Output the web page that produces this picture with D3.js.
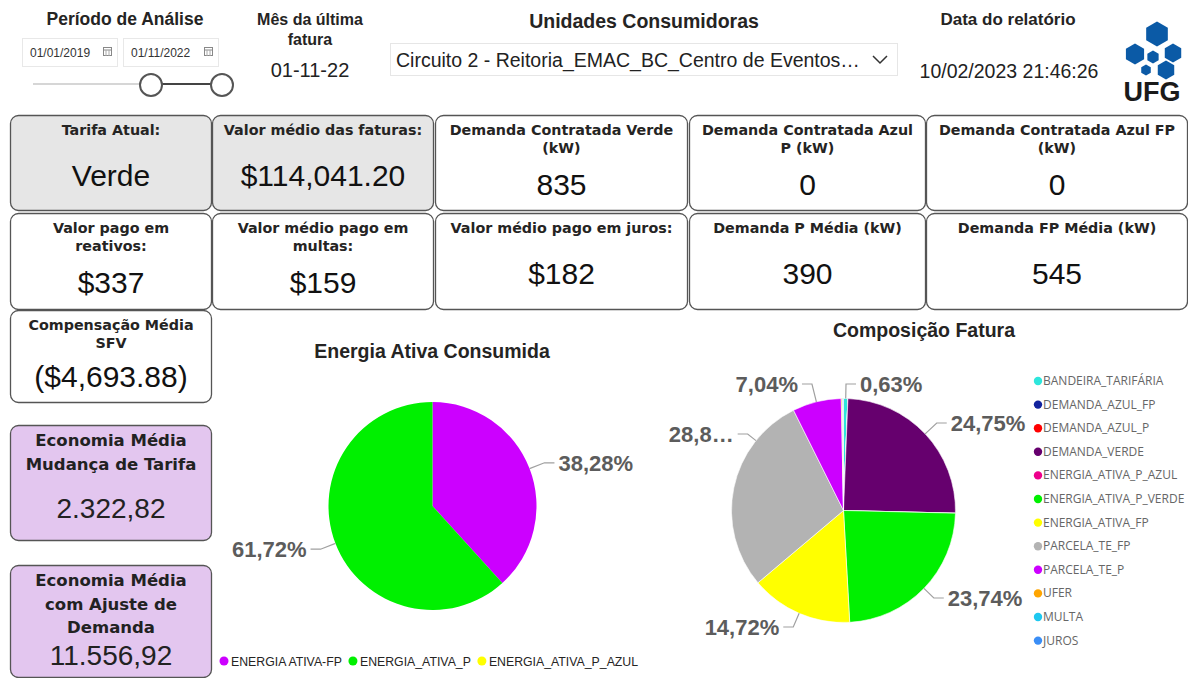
<!DOCTYPE html>
<html><head><meta charset="utf-8">
<script src="https://cdn.jsdelivr.net/npm/d3@7"></script>
<style>
html,body{margin:0;padding:0;background:#fff;}
svg{display:block;font-family:"Liberation Sans",Arial,sans-serif;}
</style></head>
<body>
<svg id="c" width="1188" height="678"></svg>
<script>
// ---------- DATA ----------
const periodStart = "01/01/2019";
const periodEnd = "01/11/2022";
const lastInvoice = "01-11-22";
const unitName = "Circuito 2 - Reitoria_EMAC_BC_Centro de Eventos…";
const reportDate = "10/02/2023 21:46:26";

const cardTitles = [
  ["Tarifa Atual:"], ["Valor médio das faturas:"], ["Demanda Contratada Verde", "(kW)"],
  ["Demanda Contratada Azul", "P (kW)"], ["Demanda Contratada Azul FP", "(kW)"],
  ["Valor pago em", "reativos:"], ["Valor médio pago em", "multas:"], ["Valor médio pago em juros:"],
  ["Demanda P Média (kW)"], ["Demanda FP Média (kW)"],
  ["Compensação Média", "SFV"]
];
const cardValues = ["Verde", "$114,041.20", "835", "0", "0", "$337", "$159", "$182", "390", "545", "($4,693.88)"];

const savingTitles = [["Economia Média", "Mudança de Tarifa"], ["Economia Média", "com Ajuste de", "Demanda"]];
const savingValues = ["2.322,82", "11.556,92"];

const energyCategories = ["ENERGIA ATIVA-FP", "ENERGIA_ATIVA_P", "ENERGIA_ATIVA_P_AZUL"];
const energyShare = [38.28, 61.72, 0];
const energyColors = ["#cc00ff", "#00f000", "#ffff00"];

const invoiceCategories = ["BANDEIRA_TARIFÁRIA", "DEMANDA_AZUL_FP", "DEMANDA_AZUL_P", "DEMANDA_VERDE",
  "ENERGIA_ATIVA_P_AZUL", "ENERGIA_ATIVA_P_VERDE", "ENERGIA_ATIVA_FP", "PARCELA_TE_FP", "PARCELA_TE_P",
  "UFER", "MULTA", "JUROS"];
const invoiceShare = [0.63, 0, 0, 24.75, 0, 23.74, 14.72, 28.80, 7.04, 0.16, 0.08, 0.08];
const invoiceLabels = ["0,63%", "", "", "24,75%", "", "23,74%", "14,72%", "28,8…", "7,04%", "", "", ""];
const invoiceColors = ["#2ee6dc", "#12239e", "#ff0000", "#66006e", "#ee008c", "#00f000", "#ffff00",
  "#b3b3b3", "#cc00ff", "#ffa500", "#1ec8f0", "#3a8ef6"];

// ---------- DRAW ----------
const svg = d3.select("#c");
const dark = "#252423";
const wide = "DejaVu Sans";

function txt(g, x, y, s, size, weight, anchor, fill, family) {
  const t = g.append("text").attr("x", x).attr("y", y).text(s)
    .attr("font-size", size).attr("font-weight", weight || "normal")
    .attr("text-anchor", anchor || "middle").attr("fill", fill || dark);
  if (family) t.style("font-family", family);
  return t;
}

// Header: period
txt(svg, 125, 25, "Período de Análise", 17.5, "bold");
[[22, periodStart], [123, periodEnd]].forEach(([x, s]) => {
  svg.append("rect").attr("x", x + .5).attr("y", 38.5).attr("width", 95).attr("height", 28)
    .attr("fill", "#fff").attr("stroke", "#e8e8e8");
  txt(svg, x + 8, 57, s, 12, "normal", "start", "#333");
  const ix = x + 81, iy = 47;
  svg.append("rect").attr("x", ix + .5).attr("y", iy + .5).attr("width", 8).attr("height", 8)
    .attr("fill", "none").attr("stroke", "#888");
  svg.append("line").attr("x1", ix).attr("x2", ix + 9).attr("y1", iy + 3).attr("y2", iy + 3).attr("stroke", "#888");
  svg.append("line").attr("x1", ix + 3).attr("x2", ix + 3).attr("y1", iy + 3).attr("y2", iy + 9).attr("stroke", "#aaa");
  svg.append("line").attr("x1", ix + 6).attr("x2", ix + 6).attr("y1", iy + 3).attr("y2", iy + 9).attr("stroke", "#aaa");
});
svg.append("line").attr("x1", 33).attr("x2", 150).attr("y1", 84).attr("y2", 84).attr("stroke", "#d6d6d6").attr("stroke-width", 2);
svg.append("line").attr("x1", 150).attr("x2", 222).attr("y1", 84).attr("y2", 84).attr("stroke", "#444").attr("stroke-width", 2);
[151, 222].forEach(cx => svg.append("circle").attr("cx", cx).attr("cy", 85).attr("r", 11)
  .attr("fill", "#fff").attr("stroke", "#555").attr("stroke-width", 2));

// Last invoice
txt(svg, 310, 25, "Mês da última", 16, "bold");
txt(svg, 310, 45, "fatura", 16, "bold");
txt(svg, 310, 77, lastInvoice, 20, "normal", "middle", "#222");

// Units
txt(svg, 644, 28, "Unidades Consumidoras", 19.5, "bold");
svg.append("rect").attr("x", 390.5).attr("y", 43.5).attr("width", 507).attr("height", 32)
  .attr("fill", "#fff").attr("stroke", "#e6e6e6");
txt(svg, 396, 67, unitName, 19.5, "normal", "start", "#222");
svg.append("polyline").attr("points", "873,56 880,63 887,56").attr("fill", "none").attr("stroke", "#333").attr("stroke-width", 1.5);

// Report date
txt(svg, 1008, 25, "Data do relatório", 17, "bold");
txt(svg, 1009, 78, reportDate, 19.5, "normal", "middle", "#222");

// UFG logo
function hex(cx, cy, r) {
  const pts = d3.range(6).map(i => {
    const a = Math.PI / 3 * i + Math.PI / 6;
    return [cx + r * Math.cos(a), cy + r * Math.sin(a)];
  });
  svg.append("polygon").attr("points", pts.map(p => p.join(",")).join(" ")).attr("fill", "#0b5aa6");
}
hex(1157, 34, 12.5); hex(1135, 54, 10.5); hex(1153, 57, 6.5); hex(1173, 53, 9.5);
hex(1146, 70, 5.5); hex(1166, 70, 9.5);
txt(svg, 1152, 101, "UFG", 27, "bold", "middle", "#1a1a1a");

// Cards
const colX = [10, 212, 435, 689, 926], colW = [201, 221, 252, 236, 261];
const cardBoxes = [];
for (let r = 0; r < 2; r++) for (let c = 0; c < 5; c++)
  cardBoxes.push({ x: colX[c], y: r === 0 ? 115 : 213, w: colW[c], h: r === 0 ? 95 : 96, fill: (r === 0 && c < 2) ? "#e6e6e6" : "#fff" });
cardBoxes.push({ x: 10, y: 310, w: 201, h: 92, fill: "#fff" });

cardBoxes.forEach((b, i) => {
  svg.append("rect").attr("x", b.x + .5).attr("y", b.y + .5).attr("width", b.w).attr("height", b.h)
    .attr("rx", 8).attr("fill", b.fill).attr("stroke", "#555").attr("stroke-width", 1.3);
  const cx = b.x + b.w / 2 + .5;
  const lines = cardTitles[i];
  lines.forEach((l, k) => txt(svg, cx, b.y + 20 + k * 18, l, 14.3, "bold", "middle", dark, wide));
  const big = i === 10;
  const vy = lines.length === 2 ? b.y + 80 : b.y + 71;
  txt(svg, cx, big ? b.y + 77 : vy, cardValues[i], 30, "normal", "middle", "#111");
});

// Saving cards
const savBoxes = [{ x: 10, y: 425, w: 201, h: 115 }, { x: 10, y: 565, w: 201, h: 112 }];
savBoxes.forEach((b, i) => {
  svg.append("rect").attr("x", b.x + .5).attr("y", b.y + .5).attr("width", b.w).attr("height", b.h)
    .attr("rx", 8).attr("fill", "#e3c6ef").attr("stroke", "#555").attr("stroke-width", 1.3);
  const cx = b.x + b.w / 2 + .5;
  savingTitles[i].forEach((l, k) => txt(svg, cx, b.y + 21 + k * 23.5, l, 16.5, "bold", "middle", "#222", wide));
  txt(svg, cx, i === 0 ? b.y + 93 : b.y + 100, savingValues[i], 28, "normal", "middle", "#222");
});

// ---------- Pie helpers ----------
function drawPie(cx, cy, r, values, colors, stroke) {
  const pie = d3.pie().sort(null).value(d => d)(values);
  const arc = d3.arc().innerRadius(0).outerRadius(r);
  const g = svg.append("g").attr("transform", `translate(${cx},${cy})`);
  g.selectAll("path").data(pie).join("path").attr("d", arc)
    .attr("fill", (d, i) => colors[i])
    .attr("stroke", stroke ? "#fff" : "none").attr("stroke-width", stroke ? 0.6 : 0);
  return pie;
}
function leader(cx, cy, r, angleDeg, labelY, text, side) {
  const a = angleDeg * Math.PI / 180;
  const p0 = [cx + r * Math.sin(a), cy - r * Math.cos(a)];
  let p1;
  if (labelY == null) {
    p1 = [cx + (r + 16) * Math.sin(a), cy - (r + 16) * Math.cos(a)];
  } else {
    const cosA = Math.cos(a);
    const rr = Math.abs(cosA) > 0.2 ? (cy - labelY) / cosA : r + 16;
    p1 = [cx + rr * Math.sin(a), labelY];
  }
  const dir = side || (Math.sin(a) >= 0 ? 1 : -1);
  const p2 = [p1[0] + dir * 10, p1[1]];
  svg.append("polyline").attr("points", [p0, p1, p2].map(p => p.join(",")).join(" "))
    .attr("fill", "none").attr("stroke", "#a0a0a0").attr("stroke-width", 1.2);
  txt(svg, p2[0] + dir * 4, p1[1] + 8, text, 22, "bold", dir > 0 ? "start" : "end", "#5c5c5c");
}

// Energy pie
txt(svg, 432, 358, "Energia Ativa Consumida", 19.5, "bold");
const ep = drawPie(432.5, 506, 104, energyShare, energyColors, false);
ep.forEach((d, i) => {
  if (!energyShare[i]) return;
  const mid = (d.startAngle + d.endAngle) / 2 * 180 / Math.PI;
  leader(432.5, 506, 104, mid, null, energyShare[i].toFixed(2).replace(".", ",") + "%");
});
// energy legend
let lx = 224;
energyCategories.forEach((c, i) => {
  svg.append("circle").attr("cx", lx).attr("cy", 661).attr("r", 4.5).attr("fill", energyColors[i]);
  const t = txt(svg, lx + 7, 665.5, c, 12.3, "normal", "start", "#252423");
  lx += 7 + t.node().getComputedTextLength() + 11;
});

// Invoice pie
txt(svg, 924, 337, "Composição Fatura", 19.5, "bold");
const ip = drawPie(843.5, 510.5, 112, invoiceShare, invoiceColors, true);
// label layout adjustments (anchor angle in degrees / label baseline center y)
const labelLayout = { 0: { y: 384, side: 1 }, 3: { y: 423 }, 5: { y: 598 }, 6: { y: 627 }, 7: { a: 308.6, y: 434 }, 8: { a: 346, y: 384 } };
ip.forEach((d, i) => {
  if (!invoiceLabels[i]) return;
  const L = labelLayout[i] || {};
  const mid = L.a != null ? L.a : (d.startAngle + d.endAngle) / 2 * 180 / Math.PI;
  leader(843.5, 510.5, 112, mid, L.y != null ? L.y : null, invoiceLabels[i], L.side);
});
// invoice legend
invoiceCategories.forEach((c, i) => {
  const y = 381 + i * 23.6;
  svg.append("circle").attr("cx", 1038).attr("cy", y).attr("r", 4.2).attr("fill", invoiceColors[i]);
  txt(svg, 1043, y + 4, c, 12, "normal", "start", "#666", "Open Sans");
});
</script>
</body></html>
